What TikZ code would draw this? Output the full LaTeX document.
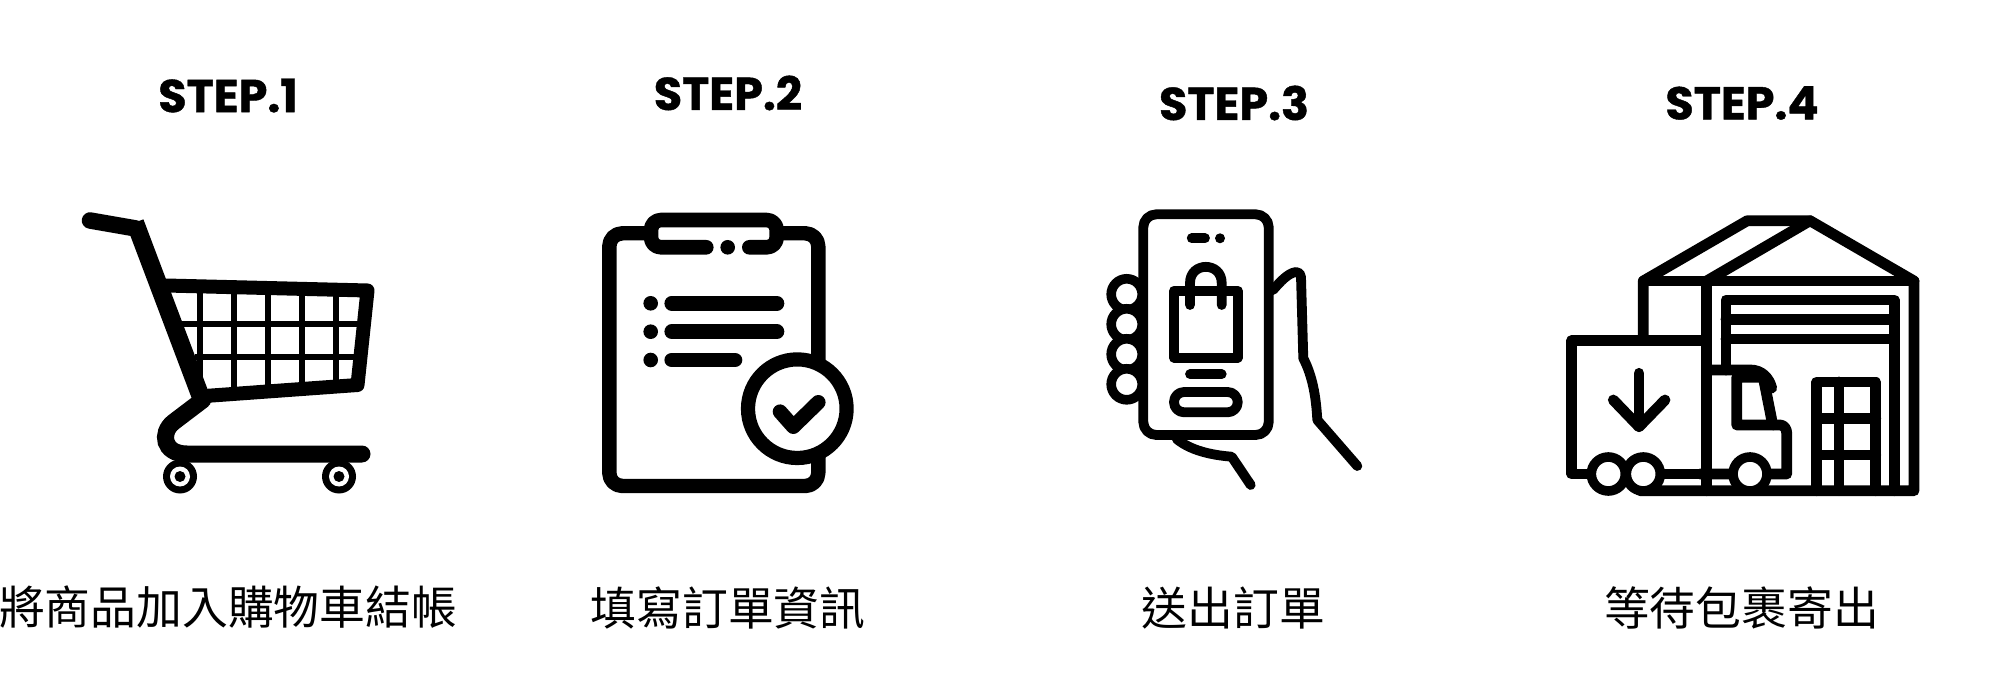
\documentclass[tikz,border=0pt]{standalone}
\usepackage{fontspec}
\usetikzlibrary{positioning}
\newfontfamily\stepfont{Poppins}[BoldFeatures={FakeBold=0.9}]
\newfontfamily\cjkfont{Noto Sans CJK TC}
\tikzstyle{steptitle} = [inner sep=0pt, font=\stepfont\bfseries\fontsize{46}{50}\selectfont]
\tikzstyle{stepcaption} = [inner sep=0pt, font=\cjkfont\fontsize{45.8}{50}\selectfont]
\tikzstyle{icon} = [line width=10.8pt, line cap=round, line join=round]
\tikzstyle{thin icon} = [line width=9.8pt, line cap=round, line join=round]
\tikzstyle{hole} = [fill=white, draw=black]
\begin{document}
\begin{tikzpicture}[x=1pt, y=-1pt]
\useasboundingbox (0,0) rectangle (2000,700);

% Titles
\node (title1) [steptitle] at (228,95.5) {STEP.1};
\node (title2) [steptitle] at (728,93) {STEP.2};
\node (title3) [steptitle] at (1234,103) {STEP.3};
\node (title4) [steptitle] at (1742,103) {STEP.4};

% Captions
\node (caption1) [stepcaption] at (228,607) {將商品加入購物車結帳};
\node (caption2) [stepcaption] at (728,608) {填寫訂單資訊};
\node (caption3) [stepcaption] at (1233.5,608) {送出訂單};
\node (caption4) [stepcaption] at (1741.5,608) {等待包裹寄出};

% Cart
\foreach \x/\t/\b in {200/290/380,234/292/388,268/293/386,302/294/384,336/295/382}
  \draw [line width=6.6pt] (\x,\t) -- (\x,\b);
\draw [line width=6pt] (182,324) -- (360,324);
\draw [line width=6pt] (195,357) -- (357,357);
\draw [line width=14pt, line join=round] (166,285.5) -- (367.5,290.5) -- (357.5,385) -- (205,396);
\draw [line width=16.5pt, line cap=round, line join=round] (90,220.5) -- (136,228.5);
\draw [line width=18pt, line join=round] (135,222.5) -- (200.5,396);
\draw [line width=17pt, line cap=round] (202.7,400) -- (173.3,422.3) .. controls (160,433) and (163,454) .. (187,454) -- (362,454);
\foreach \x in {180,339} {
  \fill (\x,476.5) circle (17);
  \fill [white] (\x,476.5) circle (10);
  \fill (\x,476.5) circle (5.5);
}

% Clipboard
\draw [icon, line width=14.4pt, rounded corners=13pt, line cap=butt] (651,233.3) -- (609.3,233.3) -- (609.3,486) -- (818.3,486) -- (818.3,233.3) -- (777,233.3);
\draw [icon, line width=14.6pt, rounded corners=10pt] (706.3,247.3) -- (651,247.3) -- (651,220) -- (776.7,220) -- (776.7,247.3) -- (749.3,247.3);
\fill (727.7,247.3) circle (7.3);
\foreach \y/\e in {303.3/777,331.7/777,360/735} {
  \fill (650.7,\y) circle (7.3);
  \draw [line width=14.6pt, line cap=round] (671.7,\y) -- (\e,\y);
}
\draw [hole, line width=14.2pt] (797.3,408.7) circle (49.3);
\draw [line width=14.6pt, line cap=round, line join=round] (780,411.7) -- (793.3,426.7) -- (818.3,402.3);

% Phone and hand
\foreach \y in {294.3,324.3,354.3,384.3}
  \draw [hole, line width=9.6pt] (1126.7,\y) circle (15.5);
\draw [hole, thin icon, rounded corners=13pt] (1143.3,214.3) rectangle (1268.7,435);
\draw [thin icon] (1191.7,238.3) -- (1205,238.3);
\fill (1220,238.3) circle (5);
\draw [thin icon] (1174,290.7) rectangle (1237.7,357.7);
\draw [thin icon] (1190,305) -- (1190,283) .. controls (1190,261.5) and (1221.7,261.5) .. (1221.7,283) -- (1221.7,305);
\draw [thin icon] (1190,374.3) -- (1221.7,374.3);
\draw [thin icon, rounded corners=10pt] (1174,392) rectangle (1237.7,412.3);
\draw [thin icon] (1273,290) .. controls (1280,282) and (1288,273) .. (1296,272) .. controls (1299,272) and (1301,274) .. (1301,277) -- (1303.3,358.3) .. controls (1312,375) and (1316,395) .. (1317.3,420) -- (1357.3,466);
\draw [thin icon] (1176.7,439) .. controls (1190,450) and (1210,455) .. (1231.7,456.7) -- (1250.7,485);

% Warehouse
\draw [icon] (1643.3,340.7) -- (1643.3,281) -- (1747.3,220.7) -- (1810,220.7) -- (1914,281) -- (1914,490.7) -- (1640,490.7);
\draw [icon] (1643.3,281) -- (1914,281);
\draw [icon] (1706.7,281) -- (1810,220.7);
\draw [icon] (1706.7,281) -- (1706.7,490.7);
\draw [icon] (1726,370) -- (1726,300) -- (1894.3,300) -- (1894.3,490.7);
\draw [icon] (1726,319.3) -- (1894.3,319.3);
\draw [icon] (1726,339) -- (1894.3,339);
\draw [icon] (1816.7,490.7) -- (1816.7,382) -- (1875.7,382) -- (1875.7,490.7);
\draw [icon] (1839,382) -- (1839,490.7);
\draw [icon] (1816.7,418.3) -- (1875.7,418.3);
\draw [icon] (1816.7,455) -- (1875.7,455);
% Truck
\draw [icon, fill=white] (1571.7,474) -- (1571.7,340.7) -- (1706.7,340.7) -- (1706.7,474) -- cycle;
\draw [icon] (1706.7,370) -- (1750,370) .. controls (1762,370) and (1769,378) .. (1771.7,388);
\draw [icon] (1763.3,377.3) -- (1736.7,377.3) -- (1736.7,425) -- (1780,425) .. controls (1784,425) and (1786.7,429) .. (1786.7,433) -- (1786.7,474) -- (1700,474);
\draw [icon] (1763.3,377.3) -- (1772.7,425);
\foreach \x in {1608.3,1643.3,1750}
  \draw [hole, line width=9.6pt] (\x,474) circle (17);
\draw [icon] (1639,373.3) -- (1639,426.7);
\draw [icon] (1613.3,400) -- (1639,426.7) -- (1665,400);
\end{tikzpicture}
\end{document}
